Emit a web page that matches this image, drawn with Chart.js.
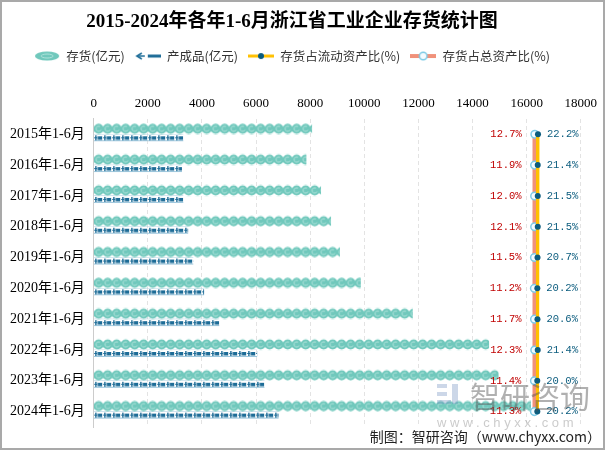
<!DOCTYPE html>
<html>
<head>
<meta charset="utf-8">
<script src="https://cdn.jsdelivr.net/npm/chart.js@4"></script>
<style>
html,body{margin:0;padding:0;background:#fff;}
#wrap{position:relative;width:605px;height:450px;}
#frame{position:absolute;left:0;top:0;width:605px;height:450px;box-sizing:border-box;border:2px solid #a9a9a9;pointer-events:none;}
canvas{display:block;}
</style>
</head>
<body>
<div id="wrap">
<canvas id="myChart" width="605" height="450"></canvas>
<div id="frame"></div>
</div>
<script>
var years = ['2015年1-6月','2016年1-6月','2017年1-6月','2018年1-6月','2019年1-6月',
             '2020年1-6月','2021年1-6月','2022年1-6月','2023年1-6月','2024年1-6月'];
var inventory = [8060, 7850, 8390, 8760, 9090, 9860, 11780, 14600, 14950, 16150];
var finished = [3300, 3250, 3300, 3480, 3670, 4070, 4630, 6030, 6300, 6820];
var ratioCurrent = [22.2, 21.4, 21.5, 21.5, 20.7, 20.2, 20.6, 21.4, 20.0, 20.2];
var ratioTotal = [12.7, 11.9, 12.0, 12.1, 11.5, 11.2, 11.7, 12.3, 11.4, 11.3];
var xMin = 0, xMax = 18000, xStep = 2000;

var serif = '"Liberation Serif", "Noto Sans CJK SC", serif';
var cjk = '"Noto Sans CJK SC", sans-serif';

var canvas = document.getElementById('myChart');
var c2d = canvas.getContext('2d');

// symbol tiles for the pictorial bars
function tile(w, h, draw) {
  var c = document.createElement('canvas');
  c.width = w; c.height = h;
  draw(c.getContext('2d'));
  return c;
}
var coinTile = tile(9, 11, function (g) {
  g.fillStyle = '#70c8bc';
  g.beginPath(); g.arc(4.5, 5.5, 5, 0, Math.PI * 2); g.fill();
  g.strokeStyle = '#b2e5dd'; g.lineWidth = 1;
  g.beginPath(); g.arc(4.5, 5.5, 2.6, 0.4, Math.PI * 1.7); g.stroke();
});
var boxTile = tile(9, 7, function (g) {
  g.fillStyle = '#1d6c97';
  g.fillRect(1, 1, 1.5, 5);
  g.fillRect(0, 3, 3, 1);
  g.fillRect(3.5, 2, 4.5, 3.5);
  g.fillStyle = '#9cc6dc';
  g.fillRect(0, 6, 9, 1);
});
var coinPats = inventory.map(function () { return c2d.createPattern(coinTile, 'repeat'); });
var boxPats = finished.map(function () { return c2d.createPattern(boxTile, 'repeat'); });

// legend icons
var icons = [
  tile(26, 10, function (g) {
    g.fillStyle = '#70c8bc';
    g.beginPath(); g.ellipse(13, 5, 12, 4.5, 0, 0, Math.PI * 2); g.fill();
    g.strokeStyle = '#b2e5dd'; g.lineWidth = 1;
    g.beginPath(); g.ellipse(13, 5, 6, 2, 0, 0, Math.PI * 2); g.stroke();
  }),
  tile(26, 10, function (g) {
    g.strokeStyle = '#1d6c97'; g.lineWidth = 1.5;
    g.beginPath(); g.moveTo(7, 2); g.lineTo(2, 5); g.lineTo(7, 8); g.stroke();
    g.beginPath(); g.moveTo(3, 5); g.lineTo(10, 5); g.stroke();
    g.fillStyle = '#1d6c97'; g.fillRect(13, 3.5, 13, 3);
  }),
  tile(26, 10, function (g) {
    g.fillStyle = '#ffc000'; g.fillRect(0, 3.5, 26, 3);
    g.fillStyle = '#0b5c7e';
    g.beginPath(); g.arc(13, 5, 3, 0, Math.PI * 2); g.fill();
  }),
  tile(26, 10, function (g) {
    g.fillStyle = '#f0917a'; g.fillRect(0, 3, 26, 4);
    g.fillStyle = '#f4fbff'; g.strokeStyle = '#7ecbe6'; g.lineWidth = 1.5;
    g.beginPath(); g.arc(13, 5, 3.8, 0, Math.PI * 2); g.fill(); g.stroke();
  })
];

var patternAlign = {
  id: 'patternAlign',
  beforeDatasetsDraw: function (chart) {
    [[0, coinPats], [1, boxPats]].forEach(function (p) {
      chart.getDatasetMeta(p[0]).data.forEach(function (el, i) {
        p[1][i].setTransform(new DOMMatrix([1, 0, 0, 1, el.base, el.y - el.height / 2]));
      });
    });
  }
};

var valueLabels = {
  id: 'valueLabels',
  afterDatasetsDraw: function (chart) {
    var ctx = chart.ctx;
    ctx.save();
    ctx.font = '10.5px "Liberation Mono", monospace';
    ctx.textBaseline = 'middle';
    chart.getDatasetMeta(3).data.forEach(function (pt, i) {
      ctx.fillStyle = '#c00000'; ctx.textAlign = 'right';
      ctx.fillText(ratioTotal[i].toFixed(1) + '%', pt.x - 13, pt.y);
    });
    chart.getDatasetMeta(2).data.forEach(function (pt, i) {
      ctx.fillStyle = '#0b5c7e'; ctx.textAlign = 'left';
      ctx.fillText(ratioCurrent[i].toFixed(1) + '%', pt.x + 9, pt.y);
    });
    ctx.restore();
  }
};

var legendGap = {
  id: 'legendGap',
  beforeInit: function (chart) {
    var fit = chart.legend.fit;
    chart.legend.fit = function () {
      fit.bind(chart.legend)();
      this.height += 15;
    };
  }
};

var footer = {
  id: 'footer',
  afterDraw: function (chart) {
    var ctx = chart.ctx;
    ctx.save();
    ctx.fillStyle = '#222';
    ctx.font = '14px ' + cjk;
    ctx.textAlign = 'right';
    ctx.textBaseline = 'middle';
    ctx.fillText('制图：智研咨询（www.chyxx.com）', 601, 437);
    // watermark
    ctx.fillStyle = 'rgba(110,140,190,0.35)';
    ctx.fillRect(437, 384, 10, 4);
    ctx.fillRect(437, 392, 10, 4);
    ctx.fillRect(437, 400, 14, 4);
    ctx.fillRect(452, 384, 6, 20);
    ctx.fillStyle = 'rgba(80,80,80,0.45)';
    ctx.font = '30px ' + cjk;
    ctx.textAlign = 'left';
    ctx.fillText('智研咨询', 470, 397);
    ctx.fillStyle = 'rgba(140,140,140,0.45)';
    ctx.font = '13px "Liberation Sans", sans-serif';
    ctx.fillText('w w w . c h y x x . c o m', 437, 423);
    ctx.restore();
  }
};

var defaultGen = Chart.defaults.plugins.legend.labels.generateLabels;

new Chart(canvas, {
  type: 'bar',
  data: {
    labels: years,
    datasets: [{
      label: '存货(亿元)',
      data: inventory,
      backgroundColor: coinPats,
      barThickness: 11,
      order: 1
    }, {
      label: '产成品(亿元)',
      data: finished,
      backgroundColor: boxPats,
      barThickness: 7,
      order: 1
    }, {
      type: 'line',
      label: '存货占流动资产比(%)',
      data: ratioCurrent,
      xAxisID: 'x2',
      borderColor: '#ffc000',
      borderWidth: 3,
      pointRadius: 3,
      pointBackgroundColor: '#0b5c7e',
      pointBorderWidth: 0,
      order: 0
    }, {
      type: 'line',
      label: '存货占总资产比(%)',
      data: ratioTotal,
      xAxisID: 'x2',
      borderColor: '#f0917a',
      borderWidth: 4,
      pointRadius: 3.8,
      pointBackgroundColor: '#f4fbff',
      pointBorderColor: '#7ecbe6',
      pointBorderWidth: 1.5,
      order: 0
    }]
  },
  options: {
    indexAxis: 'y',
    responsive: false,
    animation: false,
    layout: { padding: { left: 1, right: 22, bottom: 23, top: 0 } },
    scales: {
      x: {
        position: 'top',
        min: xMin, max: xMax,
        ticks: {
          stepSize: xStep, color: '#000', padding: 8,
          font: { family: serif, size: 13 },
          callback: function (v) { return String(v); }
        },
        grid: { color: '#e3e3e3', drawTicks: false },
        border: { display: false, dash: [4, 3] }
      },
      x2: { display: false, min: -1316, max: 151 },
      y: {
        ticks: { color: '#000', padding: 9, font: { family: serif, size: 14 } },
        grid: { display: false, drawTicks: false },
        border: { color: '#cccccc' }
      }
    },
    plugins: {
      title: {
        display: true,
        text: '2015-2024年各年1-6月浙江省工业企业存货统计图',
        color: '#000',
        font: { family: serif, size: 19, weight: 'bold' },
        padding: { top: 11, bottom: 6 }
      },
      legend: {
        labels: {
          usePointStyle: true,
          pointStyleWidth: 26,
          boxHeight: 10,
          color: '#333',
          font: { family: cjk, size: 12.5 },
          padding: 10,
          sort: function (a, b) { return a.datasetIndex - b.datasetIndex; },
          generateLabels: function (chart) {
            var items = defaultGen(chart);
            items.forEach(function (it) { it.pointStyle = icons[it.datasetIndex]; });
            return items;
          }
        }
      },
      tooltip: { enabled: false }
    }
  },
  plugins: [patternAlign, valueLabels, legendGap, footer]
});
</script>
</body>
</html>
